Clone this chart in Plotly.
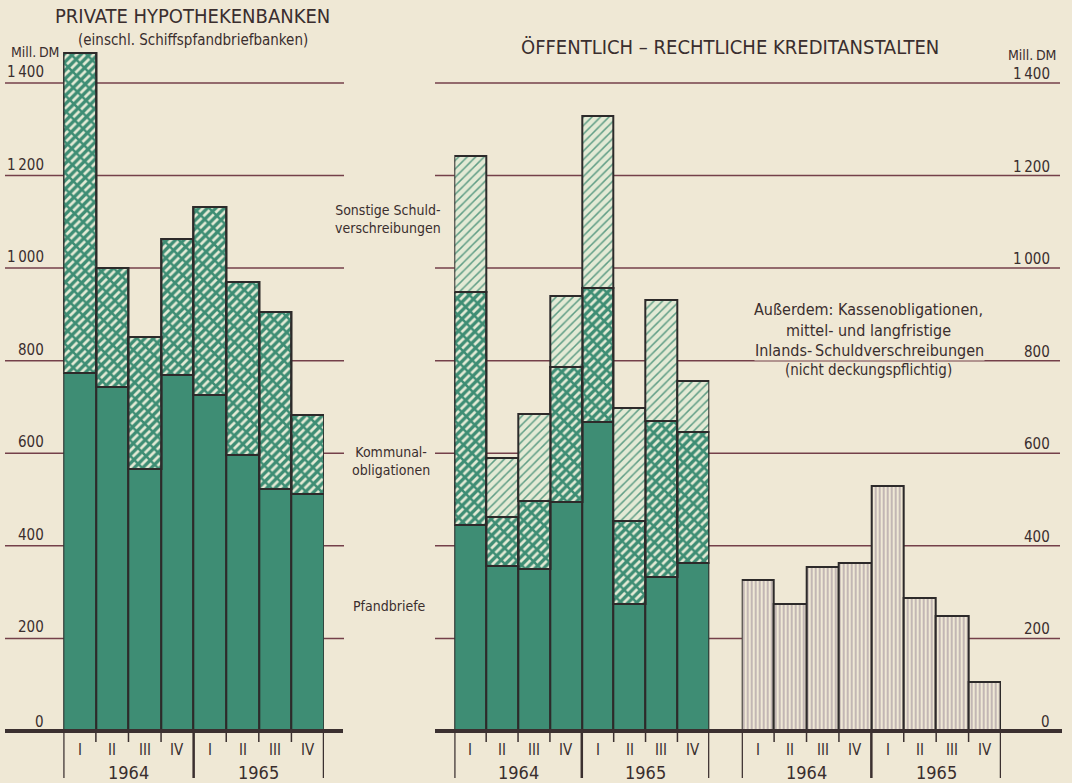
import plotly.graph_objects as go

# ---------------- data (Mill. DM) ----------------
quarters = ["I", "II", "III", "IV", "I", "II", "III", "IV"]
years = ["1964", "1965"]
y_ticks = [0, 200, 400, 600, 800, 1000, 1200, 1400]
y_tick_labels = ["0", "200", "400", "600", "800", "1\u2009000", "1\u2009200", "1\u2009400"]

# Private Hypothekenbanken
priv_pfandbriefe = [773, 744, 565, 769, 725, 596, 523, 511]
priv_kommunal = [691, 256, 287, 293, 407, 374, 383, 171]

# Öffentlich-rechtliche Kreditanstalten
oeff_pfandbriefe = [445, 357, 349, 495, 668, 274, 332, 362]
oeff_kommunal = [504, 106, 148, 292, 288, 180, 338, 285]
oeff_sonstige = [294, 126, 187, 153, 373, 243, 261, 109]

# Kassenobligationen etc. (nicht deckungspflichtig)
kasse = [327, 274, 354, 363, 530, 287, 249, 105]

# ---------------- styling ----------------
W, H = 1072, 783
PAPER = "#efe8d5"
GREEN = "#3e8d74"
LIGHT = "#e3ead5"
GRID = "#74404a"
OUTL = "#2d2a2a"
TEXT = "#3a2e2e"
VLINE = "#7d6a80"
FONT = "Liberation Sans Narrow, DejaVu Sans Condensed, Arial Narrow, sans-serif"

def px(x):
    return x / W

def py(y):
    return 1 - y / H

xs = list(range(len(quarters)))
fig = go.Figure()

def bar(xaxis, y, base, color=None, pattern=None):
    m = dict(line=dict(color=OUTL, width=2))
    m["color"] = color if color is not None else "rgba(0,0,0,0)"
    if pattern is not None:
        m["pattern"] = pattern
    fig.add_trace(go.Bar(x=xs, y=y, base=base, width=1, xaxis=xaxis, yaxis="y",
                         marker=m, showlegend=False, hoverinfo="skip"))

def kommunal_bar(xaxis, y, base):
    bar(xaxis, y, base, color=GREEN,
        pattern=dict(shape="/", bgcolor=GREEN, fgcolor=LIGHT, size=6, solidity=0.45, fgopacity=1))
    bar(xaxis, y, base, color=None,
        pattern=dict(shape="\\", bgcolor="rgba(0,0,0,0)", fgcolor=GREEN, size=11, solidity=0.22, fgopacity=1))

# left panel
bar("x", priv_pfandbriefe, [0] * 8, color=GREEN)
kommunal_bar("x", priv_kommunal, priv_pfandbriefe)

# middle panel
oeff_base2 = [a + b for a, b in zip(oeff_pfandbriefe, oeff_kommunal)]
bar("x2", oeff_pfandbriefe, [0] * 8, color=GREEN)
kommunal_bar("x2", oeff_kommunal, oeff_pfandbriefe)
bar("x2", oeff_sonstige, oeff_base2, color=LIGHT,
    pattern=dict(shape="/", bgcolor=LIGHT, fgcolor="#5f9d85", size=6, solidity=0.25, fgopacity=1))

# right panel
bar("x3", kasse, [0] * 8, color=PAPER,
    pattern=dict(shape="|", bgcolor=PAPER, fgcolor=VLINE, size=4, solidity=0.2, fgopacity=1))

# ---------------- axes ----------------
y0_px, scale = 731, 0.4629
yr = [(y0_px - H) / scale, y0_px / scale]
ax = dict(range=[-0.5, 7.5], visible=False, fixedrange=True)
fig.update_layout(
    xaxis=dict(domain=[px(63.3), px(324)], anchor="y", **ax),
    xaxis2=dict(domain=[px(454.3), px(709.3)], anchor="y", **ax),
    xaxis3=dict(domain=[px(741.7), px(1001)], anchor="y", **ax),
    yaxis=dict(domain=[0, 1], range=yr, visible=False, fixedrange=True),
    barmode="overlay",
    bargap=0,
    width=W, height=H,
    margin=dict(l=0, r=0, t=0, b=0),
    paper_bgcolor=PAPER, plot_bgcolor=PAPER,
    font=dict(family=FONT, color=TEXT, size=14),
)

shapes = []
# gridlines
for v in y_ticks[1:]:
    shapes.append(dict(type="line", xref="paper", yref="y", x0=px(5), x1=px(344), y0=v, y1=v,
                       line=dict(color=GRID, width=1.5), layer="below"))
    shapes.append(dict(type="line", xref="paper", yref="y", x0=px(435), x1=px(1060), y0=v, y1=v,
                       line=dict(color=GRID, width=1.5), layer="below"))
# baselines
shapes.append(dict(type="line", xref="paper", yref="y", x0=px(5), x1=px(343), y0=0, y1=0,
                   line=dict(color="#3b3030", width=4)))
shapes.append(dict(type="line", xref="paper", yref="y", x0=px(435), x1=px(1062), y0=0, y1=0,
                   line=dict(color="#3b3030", width=4)))
# tick marks below baseline
for xa in ["x", "x2", "x3"]:
    for i in range(len(quarters) + 1):
        pos = i - 0.5
        long = (i % 4 == 0)
        shapes.append(dict(type="line", xref=xa, yref="paper", x0=pos, x1=pos,
                           y0=py(731), y1=py(778 if long else 742),
                           line=dict(color="#3b3030", width=2.5 if long else 1.5)))
fig.update_layout(shapes=shapes)

ann = []
def text(x, y, t, size=14, xanchor="center", xref="paper", yref="paper", yshift=0, **kw):
    ann.append(dict(x=x, y=y, text=t, xref=xref, yref=yref, showarrow=False,
                    xanchor=xanchor, yanchor="middle", yshift=yshift,
                    font=dict(size=size, color=TEXT, family=FONT), **kw))

# y tick labels
for v, lab in zip(y_ticks, y_tick_labels):
    text(px(46), v, lab, size=15, xanchor="right", yref="y", yshift=11 if v else 9)
    text(px(1052), v, lab, size=15, xanchor="right", yref="y", yshift=9)

# quarter & year labels
for xa in ["x", "x2", "x3"]:
    for i, q in enumerate(quarters):
        text(i, py(750), q, size=15, xref=xa)
    for j, yl in enumerate(years):
        text(1.5 + 4 * j, py(772), yl, size=18, xref=xa)

# titles
text(px(192), py(16), "PRIVATE HYPOTHEKENBANKEN", size=20)
text(px(193), py(40), "(einschl. Schiffspfandbriefbanken)", size=15)
text(px(35), py(52), "Mill.\u2009DM", size=14)
text(px(730), py(47), "ÖFFENTLICH \u2013 RECHTLICHE KREDITANSTALTEN", size=20)
text(px(1032), py(55), "Mill.\u2009DM", size=14)

# series labels
text(px(388), py(219), "Sonstige Schuld-<br>verschreibungen", size=14)
text(px(391), py(461), "Kommunal-<br>obligationen", size=14)
text(px(389), py(606), "Pfandbriefe", size=14)

# note for right panel
text(px(868), py(310), "Außerdem: Kassenobligationen,", size=16)
text(px(868), py(330), "mittel- und langfristige", size=16)
text(px(869), py(350), "Inlands-\u2009Schuldverschreibungen", size=16, bgcolor=PAPER, borderpad=0)
text(px(868), py(370), "(nicht deckungspflichtig)", size=15)

fig.update_layout(annotations=ann)

fig.write_html("out.html", config={"displayModeBar": False},
               post_script="document.body.style.margin='0';")
